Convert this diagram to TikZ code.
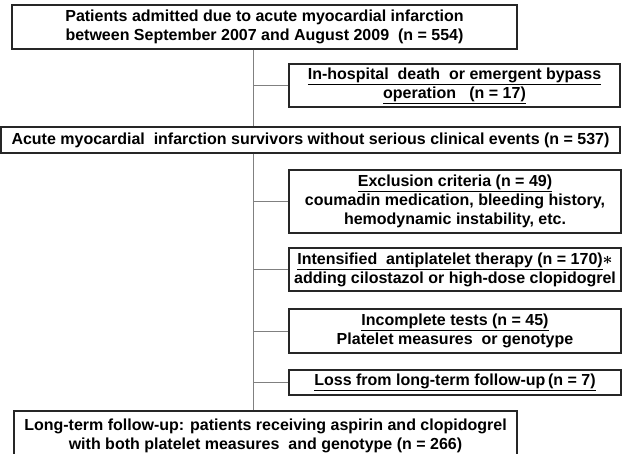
\documentclass[tikz,border=0pt]{standalone}
\usepackage{fontspec}
\setmainfont{Liberation Sans}
\begin{document}
\begin{tikzpicture}[x=1pt,y=-1pt,
  box/.style={draw=black!85,line width=1.3pt,inner sep=0pt,align=center,
    font=\fontsize{16}{19}\selectfont\bfseries},
  conn/.style={draw=black!50,line width=0.9pt}]
\useasboundingbox (0,0) rectangle (622,454);
\clip (0,0) rectangle (622,454);
\node[box,minimum width=505pt,minimum height=44pt] (b1) at (264.5,27)
  {Patients admitted due to acute myocardial infarction\\between September 2007 and August 2009\ \ (n = 554)};
\node[box,minimum width=331pt,minimum height=43pt] (b2) at (454.5,85.5)
  {\underline{In-hospital\ \ death\ \ or emergent bypass}\\\underline{operation\ \ \ (n = 17)}};
\node[box,minimum width=619pt,minimum height=26pt] (b3) at (310.5,140)
  {Acute myocardial\ \ infarction survivors without serious clinical events (n = 537)};
\node[box,minimum width=332pt,minimum height=63pt] (b4) at (455,201.5)
  {\underline{Exclusion criteria (n = 49)}\\coumadin medication, bleeding history,\\hemodynamic instability, etc.};
\node[box,minimum width=332pt,minimum height=43pt] (b5) at (455,269.5)
  {\underline{Intensified\ \ antiplatelet therapy (n = 170)}{\boldmath$\ast$}\\adding cilostazol or high-dose clopidogrel};
\node[box,minimum width=332pt,minimum height=44pt] (b6) at (455,331)
  {\underline{Incomplete tests (n = 45)}\\Platelet measures\ \ or genotype};
\node[box,minimum width=332pt,minimum height=25pt] (b7) at (455,382.5)
  {\underline{Loss from long-term follow-up\,(n = 7)}};
\node[box,minimum width=503pt,minimum height=50pt] (b8) at (265.5,436)
  {Long-term follow-up: patients receiving aspirin and clopidogrel\\with both platelet measures\ \ and genotype (n = 266)};
\coordinate (spine) at (253,0);
\draw[conn] (spine |- b1.south) -- (spine |- b3.north);
\draw[conn] (spine |- b3.south) -- (spine |- b8.north);
\foreach \b in {b2,b4,b5,b6,b7} \draw[conn] (spine |- \b.west) -- (\b.west);
\end{tikzpicture}
\end{document}
